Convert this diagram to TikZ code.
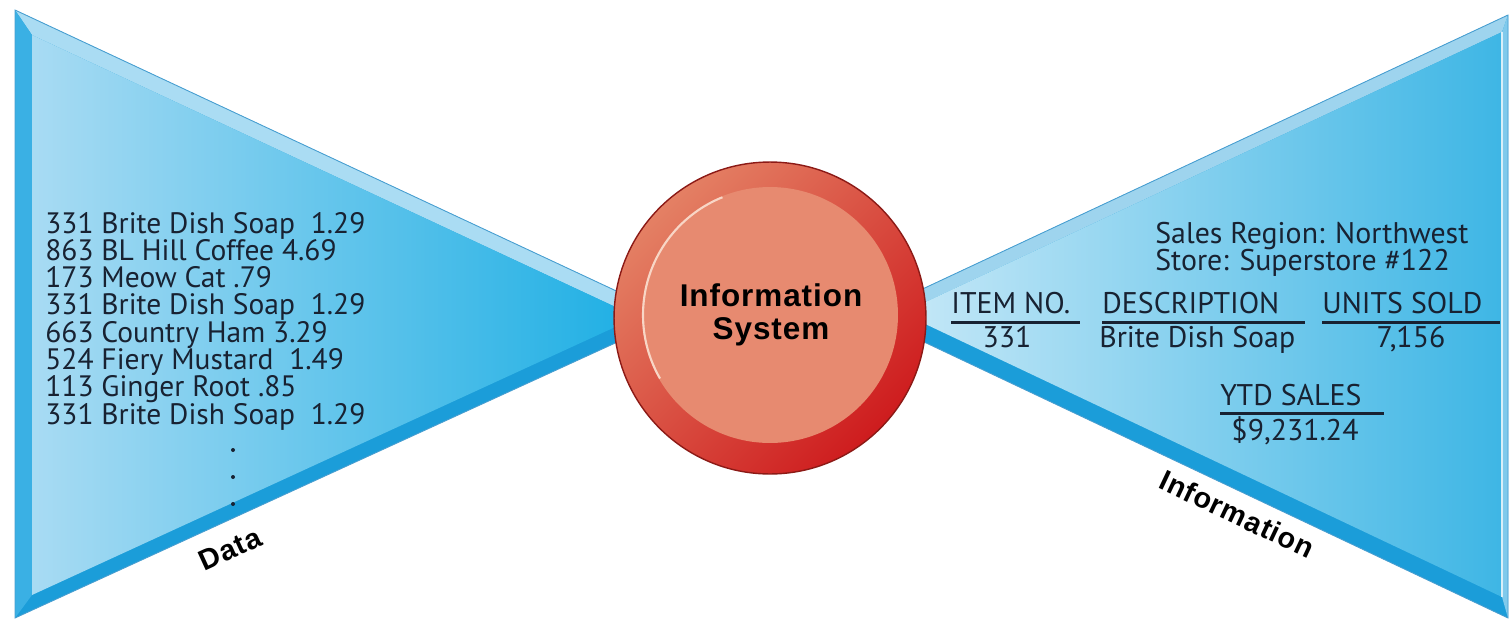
\documentclass[tikz,border=0pt]{standalone}
\usepackage{fontspec}
\setmainfont{PT Sans}
\newfontfamily\headfont{Liberation Sans}[LetterSpace=3]
\usetikzlibrary{positioning}

\definecolor{ink}{RGB}{24,34,50}
\definecolor{sideband}{RGB}{58,176,228}
\definecolor{topband}{RGB}{170,220,243}
\definecolor{topbandR}{RGB}{158,212,238}
\definecolor{botband}{RGB}{27,157,217}
\definecolor{rightband}{RGB}{128,202,236}
\definecolor{faceLlight}{RGB}{168,219,243}
\definecolor{faceLdark}{RGB}{30,175,228}
\definecolor{faceRlight}{RGB}{198,232,247}
\definecolor{faceRmid}{RGB}{168,219,243}
\definecolor{faceRdark}{RGB}{62,182,229}
\definecolor{edgeline}{RGB}{72,158,208}
\definecolor{ringlight}{RGB}{228,128,100}
\definecolor{ringdark}{RGB}{206,28,30}
\definecolor{ringedge}{RGB}{140,26,22}
\definecolor{coreface}{RGB}{231,138,112}
\definecolor{hilite}{RGB}{248,214,198}

\tikzset{
  listtext/.style={anchor=base west, inner sep=0pt, text=ink,
    font=\fontsize{16.8}{20}\selectfont},
  tabtext/.style={inner sep=0pt, text=ink, font=\fontsize{17}{20}\selectfont},
  biglabel/.style={inner sep=0pt, text=black,
    font=\headfont\bfseries\fontsize{16.4}{18}\selectfont},
  rule/.style={draw=ink, line width=1.7pt},
  ring/.style={circle, inner sep=0pt, minimum size=6.24cm, draw=ringedge,
    line width=0.8pt, top color=ringlight, bottom color=ringdark, shading angle=45},
  core/.style={circle, inner sep=0pt, minimum size=5.12cm, fill=coreface},
  edge/.style={draw=edgeline, line width=0.5pt}
}

\begin{document}
\begin{tikzpicture}[x=0.02cm,y=-0.02cm]
\useasboundingbox (0,0) rectangle (1510,619);

% data wedge
\fill[botband] (15,10) -- (672,317) -- (15,618) -- cycle;
\fill[topband] (15,10) -- (672,317) -- (637,317) -- (32,35) -- cycle;
\fill[sideband] (15,10) -- (32,35) -- (32,595) -- (15,618) -- cycle;
\shade[left color=faceLlight, right color=faceLdark] (32,35) -- (637,317) -- (32,595) -- cycle;
\draw[edge] (15,10) -- (672,317) -- (15,618) -- cycle;

% information wedge
\fill[botband] (1508,15) -- (867,315) -- (1508,618) -- cycle;
\fill[topbandR] (1508,15) -- (867,315) -- (902,313) -- (1502,32) -- cycle;
\fill[rightband] (1508,15) -- (1502,32) -- (1502,597) -- (1508,618) -- cycle;
\shade[left color=faceRlight, middle color=faceRmid, right color=faceRdark] (1502,32) -- (902,313) -- (1502,597) -- cycle;
\draw[white!70!rightband, line width=0.6pt] (1502,32) -- (1502,597);
\draw[edge] (1508,15) -- (867,315) -- (1508,618) -- cycle;

% raw data
\foreach \txt [count=\i] in {331 Brite Dish Soap\ \ 1.29, 863 BL Hill Coffee 4.69,
    173 Meow Cat .79, 331 Brite Dish Soap\ \ 1.29, 663 Country Ham 3.29,
    524 Fiery Mustard\ \ 1.49, 113 Ginger Root .85, 331 Brite Dish Soap\ \ 1.29}
  \node[listtext] (row\i) at (45,{233+27.3*(\i-1)}) {\txt};
\foreach \y in {450,477,504}
  \fill[ink] (233,\y) circle[radius=2];
\node[biglabel, rotate=24.6] (datalbl) at (230,549) {Data};

% report
\node[tabtext, anchor=base west] (region) at (1155,243) {Sales Region: Northwest};
\node[tabtext, anchor=base west] (store) at (1155,270) {Store: Superstore \#122};
\node[tabtext, anchor=base west] (hitem) at (951,313) {ITEM NO.};
\node[tabtext, anchor=base west] (hdesc) at (1102,313) {DESCRIPTION};
\node[tabtext, anchor=base west] (hunits) at (1322,313) {UNITS SOLD};
\draw[rule] (hitem.base west) ++(0,9) -- ++(129,0);
\draw[rule] (hdesc.base west) ++(0,9) -- ++(203,0);
\draw[rule] (hunits.base west) ++(0,9) -- ++(178,0);
\node[tabtext, anchor=base] (vitem) at (1007,347) {331};
\node[tabtext, anchor=base west] (vdesc) at (1099,347) {Brite Dish Soap};
\node[tabtext, anchor=base] (vunits) at (1411,347) {7,156};
\node[tabtext, anchor=base west] (hytd) at (1220,405) {YTD SALES};
\draw[rule] (hytd.base west) ++(0,8) -- ++(164,0);
\node[tabtext, anchor=base] (vytd) at (1295,440) {\$9,231.24};
\node[biglabel, rotate=-25.3] (infolbl) at (1237,514) {Information};

% processing circle
\node[ring] (sys) at (770,318) {};
\node[core] (coreface) at (770,315) {};
\draw[hilite, line width=1.2pt] (coreface.center) ++(-112:127) arc[start angle=-112, end angle=-210, radius=127];
\node[biglabel, align=center, font=\headfont\bfseries\fontsize{17.9}{18.7}\selectfont] (systxt) at (771,315) {Information\\System};
\end{tikzpicture}
\end{document}
